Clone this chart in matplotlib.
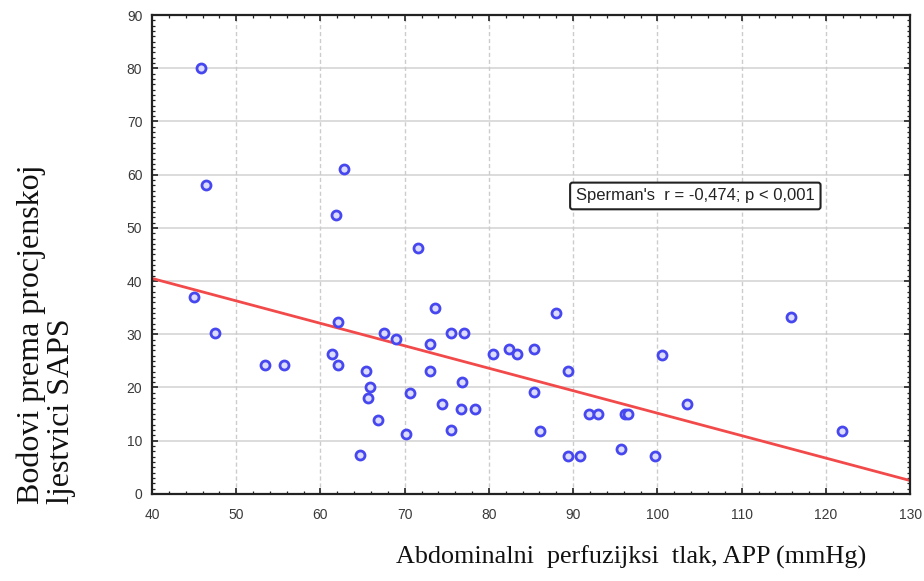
import matplotlib
matplotlib.use("Agg")
import matplotlib.pyplot as plt
from matplotlib.ticker import MultipleLocator

# Data
app = [45.8, 46.4, 45.0, 47.5, 53.4, 55.7, 62.8, 61.9, 62.1, 61.4, 62.1, 65.4, 65.9, 65.7,
       66.8, 64.7, 67.6, 69.0, 70.6, 70.2, 71.6, 73.6, 73.0, 73.0, 74.4, 75.5, 75.5, 77.0,
       76.8, 76.7, 78.4, 80.5, 82.4, 83.3, 85.4, 85.4, 86.1, 88.0, 89.4, 89.4, 90.8, 91.9,
       93.0, 95.7, 96.2, 96.5, 99.7, 100.6, 103.5, 115.9, 121.9]
saps = [80.1, 58.0, 37.0, 30.3, 24.2, 24.2, 61.1, 52.4, 32.3, 26.3, 24.2, 23.1, 20.1, 18.0,
        13.9, 7.3, 30.3, 29.1, 19.0, 11.3, 46.2, 35.0, 28.2, 23.1, 16.9, 12.0, 30.3, 30.3,
        21.0, 16.0, 16.0, 26.3, 27.3, 26.3, 27.3, 19.2, 11.8, 34.0, 23.1, 7.1, 7.1, 15.0,
        15.0, 8.5, 15.0, 15.0, 7.1, 26.1, 16.9, 33.3, 11.8]
fit_x = [40, 130]
fit_y = [40.5, 2.5]
x_ticks = [40, 50, 60, 70, 80, 90, 100, 110, 120, 130]
y_ticks = [0, 10, 20, 30, 40, 50, 60, 70, 80, 90]
annot_text = "Sperman's  r = -0,474; p < 0,001"
x_label = "Abdominalni  perfuzijksi  tlak, APP (mmHg)"
y_label = "Bodovi prema procjenskoj\nljestvici SAPS"

fig = plt.figure(figsize=(9.24, 5.81), dpi=100)
ax = fig.add_axes([0.1645, 0.150, 0.8205, 0.824])

ax.set_xlim(40, 130)
ax.set_ylim(0, 90)
ax.set_xticks(x_ticks)
ax.set_yticks(y_ticks)
ax.xaxis.set_minor_locator(MultipleLocator(2))
ax.yaxis.set_minor_locator(MultipleLocator(1))
ax.tick_params(which='both', direction='in', top=True, right=True, color='#222222')
ax.tick_params(which='major', length=4, width=1.2, labelsize=10, labelcolor='#3a3a3a')
ax.tick_params(axis='x', which='major', pad=10)
ax.tick_params(axis='y', which='major', pad=7)
ax.tick_params(which='minor', length=2.5, width=0.9)
for lbl in ax.get_xticklabels() + ax.get_yticklabels():
    lbl.set_family('Liberation Sans')

for v in y_ticks[1:-1]:
    ax.axhline(v, color='#d6d6d6', lw=1.2, zorder=0)
for v in x_ticks[1:-1]:
    ax.axvline(v, color='#cccccc', lw=1.0, ls=(0, (3, 2)), zorder=0)

for s in ax.spines.values():
    s.set_linewidth(1.6)
    s.set_color('#222222')

ax.plot(fit_x, fit_y, color='#f24a4a', lw=2.0, zorder=2, solid_capstyle='butt')
ax.plot(app, saps, ls='none', marker='o', markersize=6.5, markeredgewidth=2.0,
        markeredgecolor='#4747f0', markerfacecolor='#dcdcff', zorder=3)

ax.text(104.5, 56.0, annot_text, ha='center', va='center', fontsize=12,
        family='Liberation Sans', color='#222222',
        bbox=dict(boxstyle='round,pad=0.35,rounding_size=0.15', fc='white', ec='#222222', lw=1.5))

fig.text(0.683, 0.040, x_label, ha='center', va='center', fontsize=18.8,
         family='Liberation Serif', color='#111111')
fig.text(0.050, 0.425, y_label, ha='center', va='center', rotation=90, fontsize=23,
         family='Liberation Serif', color='#111111', multialignment='left', linespacing=1.05)

fig.savefig('out.png', dpi=100)
